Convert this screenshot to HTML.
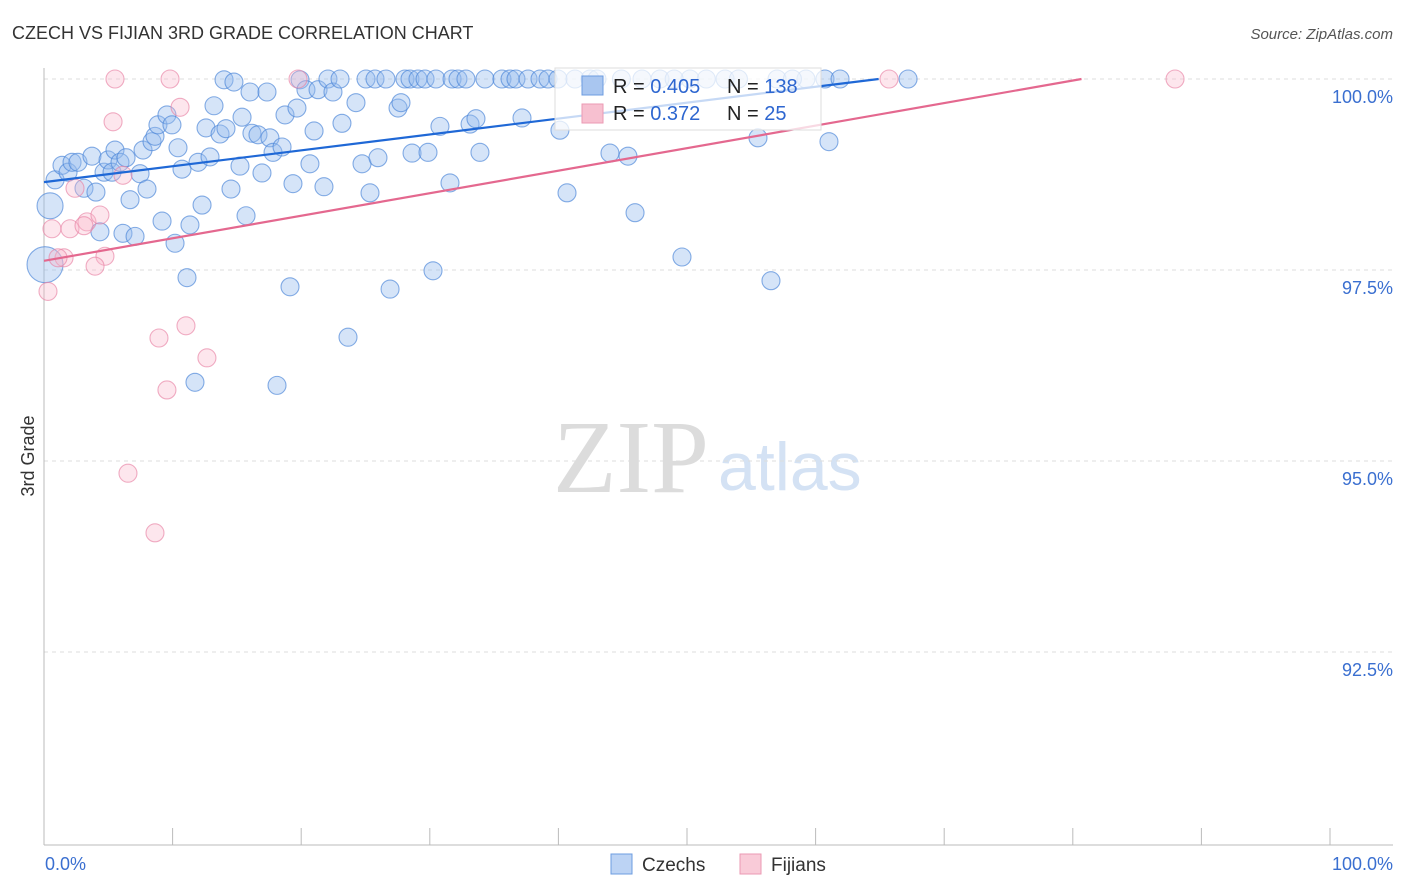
<!DOCTYPE html>
<html><head><meta charset="utf-8"><style>
body{margin:0;background:#fff;font-family:"Liberation Sans",sans-serif}
svg{display:block}
</style></head><body>
<svg id="chart" width="1406" height="892" xmlns="http://www.w3.org/2000/svg">
<text x="12" y="39" font-size="18" fill="#333">CZECH VS FIJIAN 3RD GRADE CORRELATION CHART</text>
<text x="1393" y="39" font-size="15" fill="#555" font-style="italic" text-anchor="end">Source: ZipAtlas.com</text>
<text x="553" y="492" font-size="104" font-family="Liberation Serif" fill="#dcdcdc">ZIP</text>
<text x="718" y="490" font-size="68" fill="#d4e2f4">atlas</text>
<text transform="translate(34,456) rotate(-90)" font-size="18" fill="#333" text-anchor="middle">3rd Grade</text>
<g id="grid"></g><g id="pts"></g><g id="lines"></g>
<g>
<rect x="555" y="68" width="266" height="62" fill="#fff" fill-opacity="0.75" stroke="#ddd"/>
<rect x="582" y="76" width="21" height="19" fill="#a9c6f0" stroke="#6d9ce0"/>
<rect x="582" y="104" width="21" height="19" fill="#f7c0d0" stroke="#eb9ab3"/>
<text x="613" y="93" font-size="20" fill="#222">R = <tspan fill="#2d66d0">0.405</tspan><tspan x="727">N = </tspan><tspan fill="#2d66d0">138</tspan></text>
<text x="613" y="120" font-size="20" fill="#222">R = <tspan fill="#2d66d0"> 0.372</tspan><tspan x="727">N = </tspan><tspan fill="#2d66d0">  25</tspan></text>
</g>
<g>
<rect x="611" y="854" width="21" height="20" fill="#bcd3f4" stroke="#6d9ce0"/>
<text x="642" y="871" font-size="19" fill="#333">Czechs</text>
<rect x="740" y="854" width="21" height="20" fill="#f9cbd8" stroke="#eb9ab3"/>
<text x="771" y="871" font-size="19" fill="#333">Fijians</text>
</g>
<text x="45" y="870" font-size="18" fill="#3a6fd0">0.0%</text>
<text x="1393" y="870" font-size="18" fill="#3a6fd0" text-anchor="end">100.0%</text>
</svg>
<script>
const czechX=[0.86,1.4,1.87,2.18,2.64,3.11,3.73,4.04,4.35,4.67,4.98,5.29,5.52,5.91,6.14,6.38,6.69,7.08,7.47,7.7,8.01,8.4,8.63,8.86,9.18,9.56,9.95,10.19,10.42,10.73,11.12,11.35,11.74,11.98,12.29,12.6,12.91,13.22,13.69,14.0,14.15,14.54,14.77,15.24,15.4,15.71,16.02,16.17,16.64,16.95,17.34,17.57,17.81,18.12,18.51,18.74,19.13,19.36,19.67,19.91,20.37,20.68,21.0,21.31,21.77,22.08,22.47,23.02,23.17,23.64,24.26,24.73,25.04,25.35,25.74,25.97,26.59,26.91,27.53,27.76,28.07,28.46,28.62,29.08,29.63,29.86,30.25,30.48,30.79,31.57,31.73,32.19,32.81,33.13,33.59,33.9,34.29,35.61,36.24,36.7,37.17,37.64,38.57,39.19,39.97,40.12,40.67,41.29,42.46,44.01,45.41,45.96,47.9,49.61,50.23,52.96,55.52,56.53,59.25,60.73,61.04,61.9,67.19,43.0,44.9,46.5,49.0,51.5,54.0,57.0,58.2];
const czechY=[98.68,98.87,98.78,98.91,98.91,98.57,98.99,98.52,98.0,98.78,98.94,98.78,99.07,98.91,97.98,98.97,98.42,97.94,98.76,99.07,98.56,99.18,99.25,99.4,98.14,99.53,99.4,97.85,99.1,98.82,97.4,98.09,96.03,98.91,98.35,99.36,98.98,99.65,99.28,99.99,99.35,98.56,99.96,98.86,99.5,98.21,99.83,99.29,99.27,98.77,99.83,99.23,99.04,95.99,99.11,99.53,97.28,98.63,99.62,99.99,99.86,98.89,99.32,99.86,98.59,100,99.83,100,99.42,96.62,99.69,98.89,100,98.51,100,98.97,100,97.25,99.62,99.69,100,100,99.03,100,100,99.04,97.49,100,99.38,98.64,100,100,100,99.41,99.48,99.04,100,100,100,100,99.49,100,100,100,100,99.33,98.51,100,100,99.03,98.99,98.25,100,97.67,100,100,99.23,97.36,100,100,99.18,100,100,100,100,100,100,100,100,100,100];
const czechBigX=[0.47,0.08];
const czechBigY=[98.34,97.57];
const fijiX=[5.52,9.8,10.58,5.37,2.41,3.34,0.62,2.02,4.35,3.11,4.74,3.97,1.56,0.31,11.04,8.94,12.67,9.56,6.53,8.63,19.75,65.71,87.95,6.14,1.09];
const fijiY=[100,100,99.63,99.44,98.57,98.13,98.04,98.04,98.22,98.08,97.68,97.55,97.66,97.22,96.77,96.61,96.35,95.93,94.84,94.06,100,100,100,98.74,97.66];
const trendIntercepts=[98.65,97.62];
const trendSlopes=[0.0208,0.0295];
const yTicks=[100,97.5,95,92.5];
const yTickLabels=["100.0%","97.5%","95.0%","92.5%"];
const xTicks=[0,10,20,30,40,50,60,70,80,90,100];
const NS="http://www.w3.org/2000/svg";
const X=v=>44+v*12.86;
const Y=v=>79+(100-v)*76.4;
function mk(tag,attrs,parent){const e=document.createElementNS(NS,tag);for(const k in attrs)e.setAttribute(k,attrs[k]);parent.appendChild(e);return e;}
const grid=document.getElementById('grid');
yTicks.forEach((t,i)=>{
 const l=mk('line',{x1:44,x2:1393,y1:Y(t),y2:Y(t),stroke:'#ddd','stroke-dasharray':'4 4'},grid);
 
 
 const tx=mk('text',{x:1393,y:Y(t)+24,'font-size':18,fill:'#3a6fd0','text-anchor':'end'},grid);
 tx.textContent=yTickLabels[i];
 
 
});
const ax=mk('line',{x1:44,x2:1393,y1:845,y2:845,stroke:'#bbb'},grid);


const ay=mk('line',{x1:44,x2:44,y1:68,y2:845,stroke:'#bbb'},grid);


xTicks.forEach(t=>{
 const l=mk('line',{x1:X(t),x2:X(t),y1:828,y2:845,stroke:'#bbb'},grid);
 
 
});
const pts=document.getElementById('pts');
function dot(x,y,r,fill,stroke,name){
 const c=mk('circle',{cx:X(x),cy:Y(y),r:r,fill:fill,stroke:stroke,'stroke-width':1.1},pts);
 
 
}
czechX.forEach((x,i)=>dot(x,czechY[i],9,'rgba(150,188,238,0.4)','rgba(70,130,215,0.65)','czech-point'));
czechBigX.forEach((x,i)=>dot(x,czechBigY[i],i?18:13,'rgba(150,188,238,0.4)','rgba(70,130,215,0.65)','czech-point'));
fijiX.forEach((x,i)=>dot(x,fijiY[i],9,'rgba(248,182,202,0.35)','rgba(232,130,165,0.65)','fijian-point'));
const lines=document.getElementById('lines');
const cols=['#1f68d6','#e4688f'];const nm=['czech-trendline','fijian-trendline'];
trendIntercepts.forEach((b,i)=>{
 const m=trendSlopes[i];const xe=Math.min(100,(100-b)/m);
 const l=mk('line',{x1:X(0),y1:Y(b),x2:X(xe),y2:Y(b+m*xe),stroke:cols[i],'stroke-width':2.2},lines);
 
 
});
</script>
</body></html>
